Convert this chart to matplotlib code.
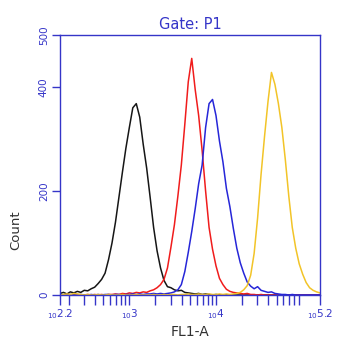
import matplotlib
matplotlib.use("Agg")
import matplotlib.pyplot as plt
import numpy as np

# histogram channels, log10(FL1-A), 0.04 decade steps from 2.2 to 5.2
log_fl = np.round(np.arange(2.20, 5.2001, 0.04), 2)

black_counts = [
    3, 5, 2, 6, 4, 7, 5, 9, 8, 12,
    15, 22, 30, 42, 68, 100, 140, 188, 236, 282,
    322, 360, 368, 342, 290, 244, 188, 130, 85, 52,
    28, 16, 14, 10, 8, 9, 5, 4, 3, 2,
    3, 1, 2, 1, 0, 1, 0, 0, 0, 0,
    0, 0, 0, 0, 0, 0, 0, 0, 0, 0,
    0, 0, 0, 0, 0, 0, 0, 0, 0, 0,
    0, 0, 0, 0, 0, 0,
]
red_counts = [
    0, 0, 1, 0, 0, 1, 0, 0, 1, 0,
    1, 0, 1, 0, 1, 1, 2, 1, 3, 2,
    4, 3, 5, 4, 6, 5, 8, 10, 14, 20,
    30, 52, 92, 135, 190, 250, 328, 410, 455, 395,
    345, 278, 200, 130, 88, 56, 32, 20, 11, 7,
    5, 4, 3, 2, 3, 1, 1, 0, 1, 0,
    0, 0, 0, 0, 0, 0, 0, 0, 0, 0,
    0, 0, 0, 0, 0, 0,
]
blue_counts = [
    0, 0, 0, 1, 0, 0, 1, 0, 0, 1,
    0, 1, 0, 1, 1, 0, 1, 1, 0, 1,
    1, 2, 1, 2, 1, 2, 2, 3, 2, 3,
    2, 3, 4, 6, 10, 20, 45, 82, 122, 166,
    214, 250, 322, 368, 376, 345, 296, 256, 205, 170,
    128, 90, 62, 42, 25, 17, 12, 16, 9, 7,
    5, 6, 3, 2, 1, 1, 0, 1, 0, 0,
    0, 0, 0, 0, 0, 0,
]
yellow_counts = [
    0, 1, 2, 1, 3, 2, 1, 0, 1, 0,
    0, 1, 0, 0, 1, 0, 0, 0, 1, 0,
    0, 0, 1, 0, 0, 0, 0, 1, 0, 0,
    1, 0, 1, 1, 0, 1, 1, 2, 1, 1,
    2, 1, 1, 2, 1, 1, 2, 1, 2, 1,
    2, 3, 5, 10, 18, 38, 80, 148, 232, 305,
    372, 428, 405, 368, 322, 260, 190, 130, 90, 60,
    40, 24, 14, 9, 6, 4,
]

series = [
    (black_counts, "#161616"),
    (red_counts, "#f01c1c"),
    (blue_counts, "#2626d8"),
    (yellow_counts, "#f2c428"),
]

y_ticks = [0, 200, 400, 500]
x_major = [2.2, 3, 4, 5.2]
x_major_labels = ["$_{10}$2.2", "$_{10}$3", "$_{10}$4", "$_{10}$5.2"]

axis_blue = "#3535c8"

fig = plt.figure(figsize=(3.63, 3.5), dpi=100)
ax = fig.add_axes([60 / 363, 55 / 350, 260 / 363, 260 / 350])

for counts, color in series:
    ax.plot(10 ** log_fl, counts, color=color, lw=1.1)

ax.set_xscale("log")
ax.set_xlim(10 ** 2.2, 10 ** 5.2)
ax.set_ylim(0, 500)

ax.set_xticks([10 ** v for v in x_major])
ax.set_xticklabels(x_major_labels)
minor = [m * 10 ** d for d in (2, 3, 4) for m in range(1, 10) if 10 ** 2.2 < m * 10 ** d < 10 ** 5.2]
ax.set_xticks(minor, minor=True)
ax.xaxis.set_minor_formatter(matplotlib.ticker.NullFormatter())

ax.set_yticks(y_ticks)
ax.set_yticklabels([str(v) for v in y_ticks], rotation=90, va="center")

for sp in ax.spines.values():
    sp.set_color(axis_blue)
    sp.set_linewidth(1.0)

ax.tick_params(axis="both", which="both", direction="out", color=axis_blue,
               labelcolor=axis_blue, width=1.0, labelsize=7.5)
ax.tick_params(axis="x", which="both", length=7, pad=2)
ax.tick_params(axis="y", length=6, pad=2)

ax.set_title("Gate: P1", color=axis_blue, fontsize=10.5, pad=4)
ax.set_xlabel("FL1-A", color="#303030", fontsize=10, labelpad=3)
ax.set_ylabel("Count", color="#303030", fontsize=9.5)
ax.yaxis.set_label_coords(-0.145, 0.25)

fig.savefig("out.png", dpi=100)
